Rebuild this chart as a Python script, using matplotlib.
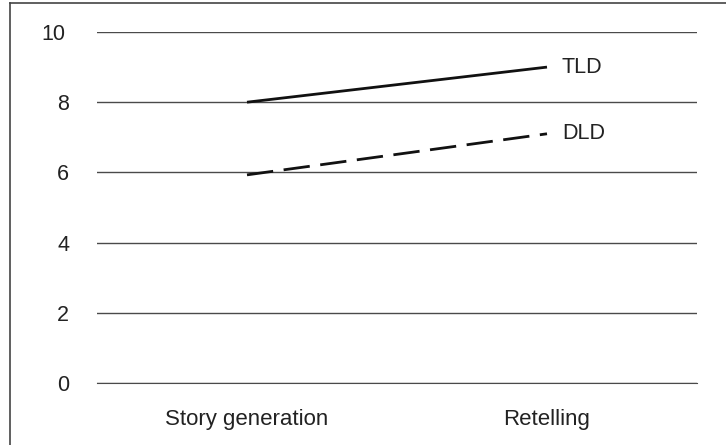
import matplotlib.pyplot as plt
import matplotlib.transforms as mtransforms
from matplotlib.lines import Line2D

plt.rcParams['font.family'] = ['Liberation Sans', 'DejaVu Sans']

# Data
conditions = ['Story generation', 'Retelling']
tld = [8.0, 9.0]
dld = [5.93, 7.1]
y_ticks = [0, 2, 4, 6, 8, 10]

W, H = 726, 445
fig = plt.figure(figsize=(W / 100, H / 100), dpi=100)
ax = fig.add_axes([97 / W, 1 - 383 / H, 600 / W, 351 / H])

x = list(range(len(conditions)))
ax.plot(x, tld, color='#111111', lw=2.0, solid_capstyle='butt')
ax.plot(x, dld, color='#111111', lw=2.0, dashes=(9.5, 3.8))

ax.text(x[-1] + 0.05, tld[-1], 'TLD', fontsize=15.5, va='center', ha='left', color='#222222')
ax.text(x[-1] + 0.05, dld[-1], 'DLD', fontsize=15.5, va='center', ha='left', color='#222222')

ax.set_xlim(-0.5, 1.5)
ax.set_ylim(0, 10)
ax.set_yticks(y_ticks)
ax.set_xticks(x)
ax.set_xticklabels(conditions)
ax.yaxis.grid(True, color='#4a4a4a', lw=1.0)
ax.set_axisbelow(True)
for s in ax.spines.values():
    s.set_visible(False)
ax.spines['bottom'].set_visible(True)
ax.spines['bottom'].set_color('#4a4a4a')
ax.tick_params(length=0, colors='#222222')
ax.tick_params(axis='y', pad=20, labelsize=15.5)
ax.tick_params(axis='x', pad=19, labelsize=16)

# the "10" label sits a little further left in the original
fig.canvas.draw()
for lbl in ax.get_yticklabels():
    if lbl.get_text() == '10':
        lbl.set_transform(lbl.get_transform() + mtransforms.ScaledTranslation(-4 / 100, 0, fig.dpi_scale_trans))

# frame around the figure (top and left edges visible)
fig.add_artist(Line2D([10 / W, 10 / W], [0, 1 - 3 / H], transform=fig.transFigure, color='#444444', lw=1.2))
fig.add_artist(Line2D([10 / W, 1], [1 - 3 / H, 1 - 3 / H], transform=fig.transFigure, color='#444444', lw=1.2))

fig.savefig('out.png', dpi=100)
